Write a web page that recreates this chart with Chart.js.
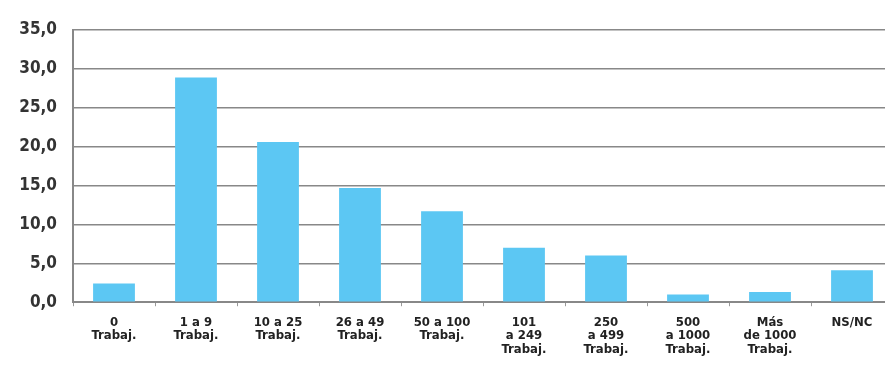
<!DOCTYPE html>
<html>
<head>
<meta charset="utf-8">
<script src="https://cdn.jsdelivr.net/npm/chart.js@4/dist/chart.umd.min.js"></script>
<style>
    html, body { margin: 0; padding: 0; background: #fff; overflow: hidden; }
    #wrap { width: 895px; height: 374px; position: relative; }
</style>
</head>
<body>
<div id="wrap"><canvas id="barGraph"></canvas></div>
<script>
// categories (multi-line labels) and values in %
const categories = [
    ["0", "Trabaj."],
    ["1 a 9", "Trabaj."],
    ["10 a 25", "Trabaj."],
    ["26 a 49", "Trabaj."],
    ["50 a 100", "Trabaj."],
    ["101", "a 249", "Trabaj."],
    ["250", "a 499", "Trabaj."],
    ["500", "a 1000", "Trabaj."],
    ["Más", "de 1000", "Trabaj."],
    ["NS/NC"]
];
const values = [2.4, 28.9, 20.6, 14.7, 11.7, 7.0, 6.0, 1.0, 1.3, 4.1];
const yMin = 0;
const yMax = 35;
const yStep = 5;

const fontName = "'DejaVu Sans Condensed', 'Liberation Sans Narrow', sans-serif";

BarGraph();

function BarGraph(){
    const ctx = document.getElementById('barGraph').getContext('2d');

    const chart = new Chart(ctx, {
        type: 'bar',
        data: {
            labels: categories,
            datasets: [{
                backgroundColor: '#5cc7f3',
                borderWidth: 0,
                barPercentage: 0.51,
                categoryPercentage: 1.0,
                data: values
            }]
        },
        options: {
            responsive: true,
            maintainAspectRatio: false,
            animation: false,
            layout: { padding: { top: 30, right: 2, bottom: 8, left: 0 } },
            plugins: {
                legend: { display: false },
                tooltip: { enabled: false }
            },
            scales: {
                x: {
                    offset: true,
                    grid: {
                        offset: true,
                        drawOnChartArea: false,
                        drawTicks: true,
                        tickLength: 4,
                        color: '#999',
                        lineWidth: 1
                    },
                    border: { color: '#888', width: 2 },
                    ticks: {
                        color: '#222',
                        padding: 10,
                        maxRotation: 0,
                        autoSkip: false,
                        font: { family: fontName, size: 13, weight: 'bold', lineHeight: 1.02 }
                    }
                },
                y: {
                    min: yMin,
                    max: yMax,
                    afterFit: function(scale){ scale.width = 73; },
                    grid: {
                        color: '#888',
                        lineWidth: 1.5,
                        drawTicks: false
                    },
                    border: { color: '#888', width: 2 },
                    ticks: {
                        stepSize: yStep,
                        padding: 16,
                        color: '#333',
                        font: { family: fontName, size: 17, weight: 'bold' },
                        callback: function(v){ return v.toFixed(1).replace('.', ','); }
                    }
                }
            }
        }
    });
}
</script>
</body>
</html>
